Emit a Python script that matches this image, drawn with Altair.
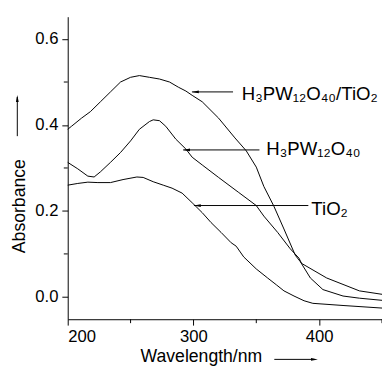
import altair as alt
import pandas as pd

# ---- data ----
comp_nm = [200, 203, 211, 218, 226, 234, 242, 250, 257, 265, 273, 281, 288, 294, 299, 307, 320, 333, 342, 350, 356, 364, 372, 381, 385, 393, 403, 419, 432, 450]
comp_abs = [0.390, 0.397, 0.416, 0.431, 0.454, 0.477, 0.500, 0.511, 0.515, 0.511, 0.507, 0.500, 0.488, 0.479, 0.469, 0.454, 0.416, 0.370, 0.340, 0.302, 0.257, 0.211, 0.158, 0.097, 0.082, 0.044, 0.017, 0.002, -0.003, -0.008]

hpw_nm = [200, 208, 216, 221, 226, 234, 242, 250, 257, 265, 268, 273, 278, 286, 294, 299, 307, 320, 336, 350, 356, 367, 377, 384, 386, 406, 432, 450]
hpw_abs = [0.313, 0.298, 0.281, 0.279, 0.291, 0.313, 0.336, 0.363, 0.390, 0.408, 0.412, 0.410, 0.397, 0.367, 0.344, 0.325, 0.307, 0.278, 0.243, 0.2125, 0.188, 0.150, 0.112, 0.090, 0.078, 0.044, 0.014, 0.006]

tio2_nm = [200, 208, 216, 224, 234, 244, 255, 260, 268, 276, 283, 291, 299, 307, 314, 322, 330, 334, 340, 350, 359, 366, 372, 380, 388, 395, 419, 450]
tio2_abs = [0.260, 0.264, 0.267, 0.266, 0.266, 0.273, 0.279, 0.278, 0.268, 0.260, 0.253, 0.2415, 0.219, 0.196, 0.173, 0.150, 0.126, 0.118, 0.093, 0.065, 0.044, 0.028, 0.014, 0.002, -0.009, -0.015, -0.020, -0.026]

series_names = ["H3PW12O40/TiO2", "H3PW12O40", "TiO2"]

# annotation arrows (data coordinates)
ann_labels = ["H₃PW₁₂O₄₀/TiO₂", "H₃PW₁₂O₄₀", "TiO₂"]
ann_tip_x = [298.8, 291.8, 300.4]
ann_end_x = [331.5, 352.5, 391.4]
ann_y = [0.477, 0.342, 0.2126]
ann_label_x = [338.5, 358.0, 393.8]
ann_label_y = [0.475, 0.346, 0.207]

x_major = [200, 300, 400]
x_minor = [250, 350, 450]
y_major = [0.0, 0.2, 0.4, 0.6]
y_minor = [0.1, 0.3, 0.5]

rows = []
for name, xs, ys in zip(series_names, [comp_nm, hpw_nm, tio2_nm], [comp_abs, hpw_abs, tio2_abs]):
    for xv, yv in zip(xs, ys):
        rows.append({"series": name, "nm": xv, "abs": yv})
df = pd.DataFrame(rows)

ann = pd.DataFrame({
    "label": ann_labels, "tip": ann_tip_x, "end": ann_end_x,
    "y": ann_y, "lx": ann_label_x, "ly": ann_label_y,
})
xmin_df = pd.DataFrame({"v": x_minor})
ymin_df = pd.DataFrame({"v": y_minor})
one = pd.DataFrame({"k": [0]})

FONT = "Liberation Sans"
W, H = 321, 309
x_scale = alt.Scale(domain=[200, 450], nice=False, zero=False)
y_scale = alt.Scale(domain=[-0.052, 0.652], nice=False, zero=False)

common_axis = dict(
    domainColor="black", tickColor="black", labelColor="black",
    labelFont=FONT, labelFontSize=17, grid=False, titleColor="black",
    titleFont=FONT, titleFontSize=18, titleFontWeight="normal",
)
x_axis = alt.Axis(
    values=x_major, tickSize=6, labelPadding=4, format="d",
    title="Wavelength/nm", titleX=136, titleY=43, titleBaseline="alphabetic",
    titleAlign="center", **common_axis)
y_axis = alt.Axis(
    values=y_major, tickSize=6, labelPadding=4, format=".1f",
    title="Absorbance", titleX=-44, titleY=193, titleAngle=270,
    titleBaseline="alphabetic", titleAlign="center", **common_axis)


def X(field):
    return alt.X(field, type="quantitative", scale=x_scale, axis=x_axis, title="Wavelength/nm")


def Y(field):
    return alt.Y(field, type="quantitative", scale=y_scale, axis=y_axis, title="Absorbance")


lines = alt.Chart(df).mark_line(color="black", strokeWidth=1).encode(
    x=X("nm"), y=Y("abs"), detail="series:N",
)

# minor ticks
x_minor_ticks = alt.Chart(xmin_df).mark_rule(color="black", strokeWidth=1).encode(
    x=X("v"), y=alt.value(H), y2=alt.value(H + 4),
)
y_minor_ticks = alt.Chart(ymin_df).mark_rule(color="black", strokeWidth=1).encode(
    y=Y("v"), x=alt.value(-4), x2=alt.value(0),
)

arrows = alt.Chart(ann).mark_rule(color="black", strokeWidth=1).encode(
    x=X("tip"), x2="end:Q", y=Y("y"),
)

heads = alt.Chart(ann).mark_point(
    shape="M-1,0L1,-0.4L1,0.4Z", filled=True, color="black", size=50, opacity=1, xOffset=3.5
).encode(x=X("tip"), y=Y("y"))

labels = alt.Chart(ann).mark_text(
    align="left", baseline="middle", font=FONT, fontSize=19, color="black", dy=1
).encode(x=X("lx"), y=Y("ly"), text="label:N")

# arrows beside the axis titles
yt_rule = alt.Chart(one).mark_rule(color="black", strokeWidth=1).encode(
    x=alt.value(-51.5), y=alt.value(82), y2=alt.value(122))
yt_head = alt.Chart(one).mark_point(
    shape="M0,-1L-0.4,1L0.4,1Z", filled=True, color="black", size=50, opacity=1
).encode(x=alt.value(-51.5), y=alt.value(83.5))
xt_rule = alt.Chart(one).mark_rule(color="black", strokeWidth=1).encode(
    x=alt.value(211), x2=alt.value(252), y=alt.value(350))
xt_head = alt.Chart(one).mark_point(
    shape="M1,0L-1,-0.4L-1,0.4Z", filled=True, color="black", size=50, opacity=1
).encode(x=alt.value(252), y=alt.value(350))

chart = alt.layer(
    lines, x_minor_ticks, y_minor_ticks, arrows, heads, labels,
    yt_rule, yt_head, xt_rule, xt_head
).properties(
    width=W, height=H,
    padding={"left": 61, "top": 5, "right": 0, "bottom": 50},
    autosize=alt.AutoSizeParams(type="none"),
    background="white",
).configure_view(stroke=None)

chart.save("out.html", embed_options={"renderer": "svg", "actions": False})
